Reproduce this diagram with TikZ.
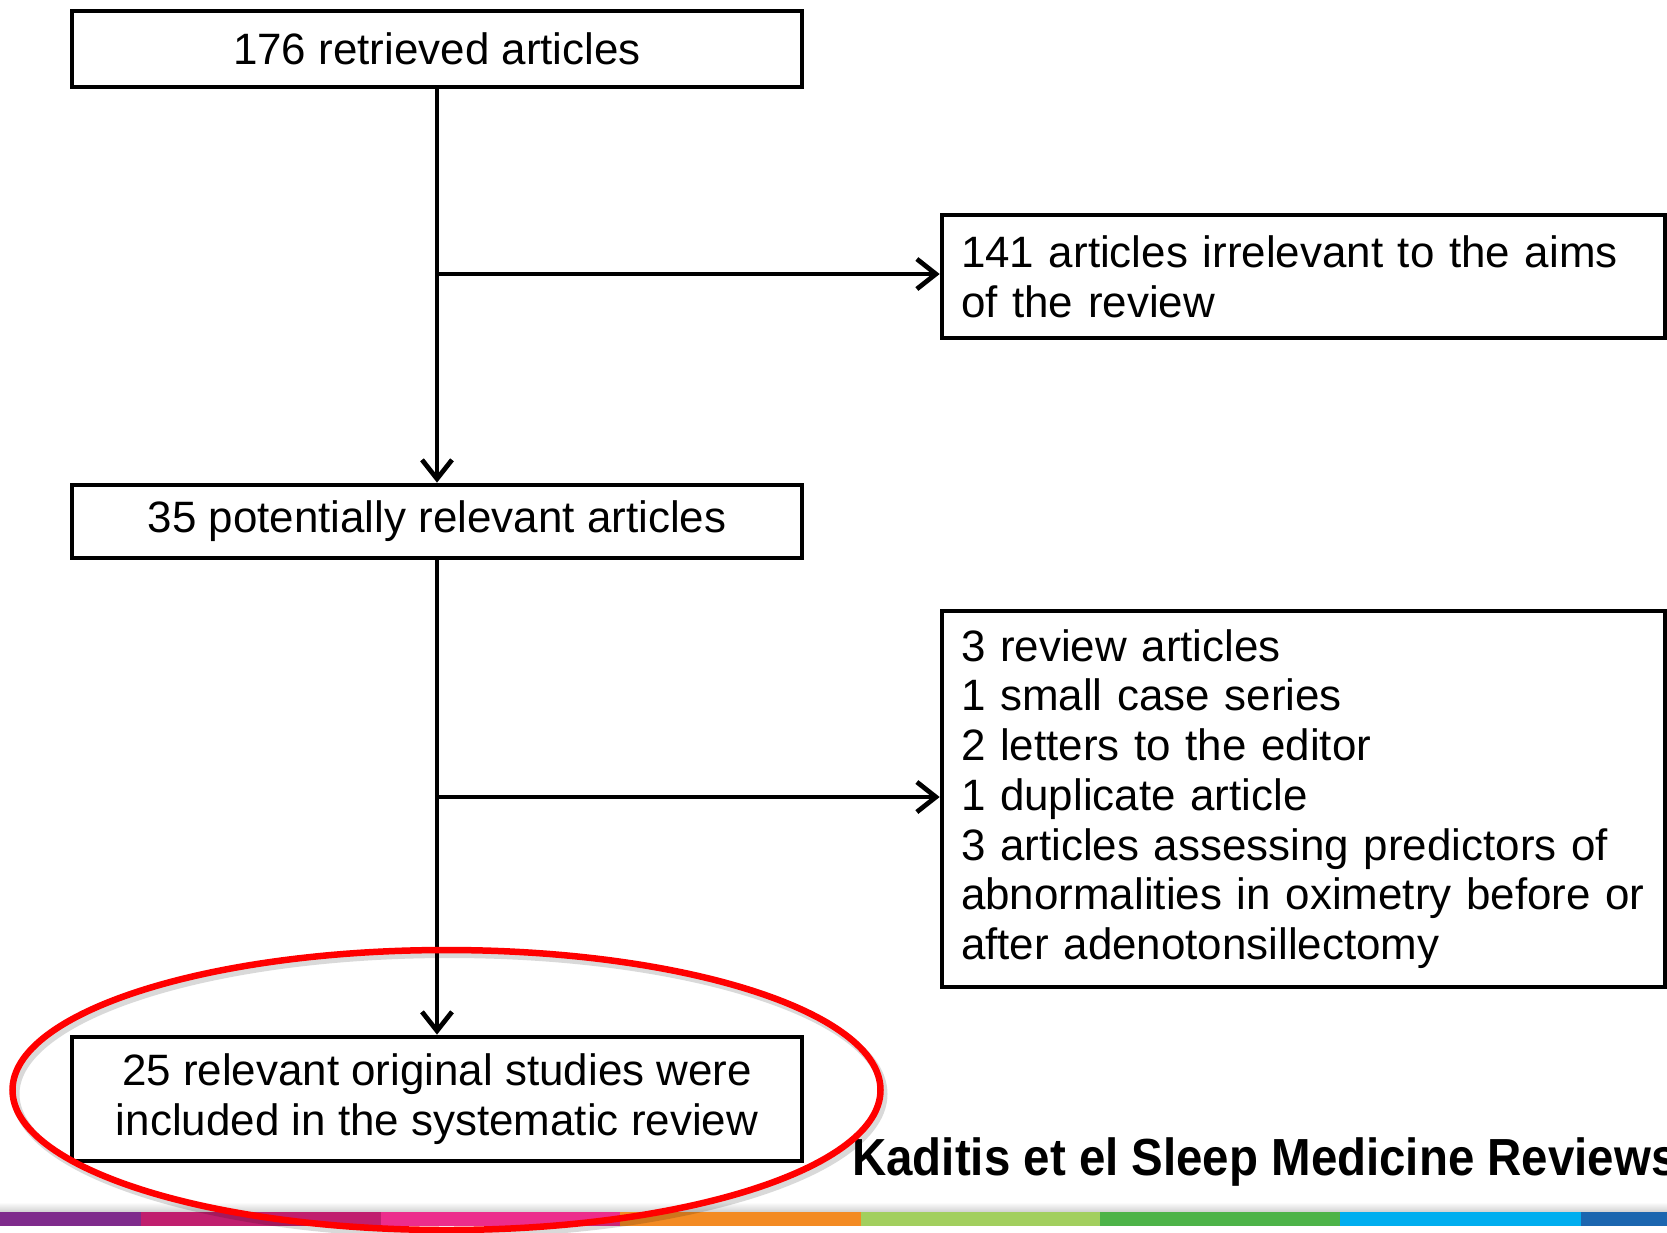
\documentclass[tikz,border=0pt]{standalone}
\usepackage{fontspec}
\setmainfont{Liberation Sans}
\usepackage{graphicx}
\usetikzlibrary{arrows.meta}

\definecolor{barpurple}{HTML}{7F2B8C}
\definecolor{barberry}{HTML}{C01F6E}
\definecolor{barpink}{HTML}{EC2D8C}
\definecolor{barorange}{HTML}{F38B23}
\definecolor{barlime}{HTML}{A2CF5E}
\definecolor{bargreen}{HTML}{4DB348}
\definecolor{barcyan}{HTML}{00AEEF}
\definecolor{barblue}{HTML}{1B66AF}

\newcommand{\boxfont}{\fontsize{25}{28.3}\selectfont}

\tikzset{
  box/.style={draw, line width=0.095cm, minimum width=14.6cm, align=center, font=\boxfont},
  sidebox/.style={draw, line width=0.095cm, text width=13.7cm, inner xsep=0.38cm, align=left, font=\boxfont},
  flow/.style={line width=0.095cm, -{Straight Barb[length=0.38cm,width=0.6cm]}},
  highlight/.style={draw=red, line width=0.13cm},
}

\begin{document}
\begin{tikzpicture}[x=0.02cm, y=-0.02cm]
  \useasboundingbox (0,0) rectangle (1667,1232);
  \clip (0,0) rectangle (1667,1232);

  % coloured strip at the foot of the slide
  \shade[top color=white, bottom color=black!18] (0,1202) rectangle (1667,1212);
  \foreach \from/\to/\col in {0/141/barpurple, 141/381/barberry, 381/620/barpink,
      620/861/barorange, 861/1100/barlime, 1100/1340/bargreen,
      1340/1581/barcyan, 1581/1667/barblue}
    \fill[\col] (\from,1212) rectangle (\to,1226);

  % flow chart
  \node[box, minimum height=1.52cm] (retrieved) at (437,49) {176 retrieved articles};
  \node[sidebox, minimum height=2.46cm] (irrelevant) at (1303.5,276.5)
    {141 articles irrelevant to the aims\\of the review};
  \node[box, minimum height=1.46cm] (potential) at (437,521.5) {35 potentially relevant articles};
  \node[sidebox, minimum height=7.52cm] (excluded) at (1303.5,799)
    {3 review articles\\
     1 small case series\\
     2 letters to the editor\\
     1 duplicate article\\
     3 articles assessing predictors of\\
     abnormalities in oximetry before or\\
     after adenotonsillectomy};
  \node[box, minimum height=2.48cm] (included) at (437,1099)
    {25 relevant original studies were\\included in the systematic review};

  \coordinate (split1) at (437,274);
  \coordinate (split2) at (437,797);
  \draw[flow] (retrieved) -- (potential);
  \draw[flow] (split1) -- (split1 -| irrelevant.west);
  \draw[flow] (potential) -- (included);
  \draw[flow] (split2) -- (split2 -| excluded.west);

  \node[anchor=base west, inner sep=0, font=\bfseries\fontsize{27}{30}\selectfont] (source)
    at (852,1175) {\scalebox{1}[1.1]{Kaditis et el Sleep Medicine Reviews}};

  % red ring round the result
  \draw[black, opacity=0.15, line width=0.16cm] (449.5,1094) ellipse [x radius=434, y radius=140];
  \draw[highlight] (446.5,1090) ellipse [x radius=434, y radius=140];
\end{tikzpicture}
\end{document}
